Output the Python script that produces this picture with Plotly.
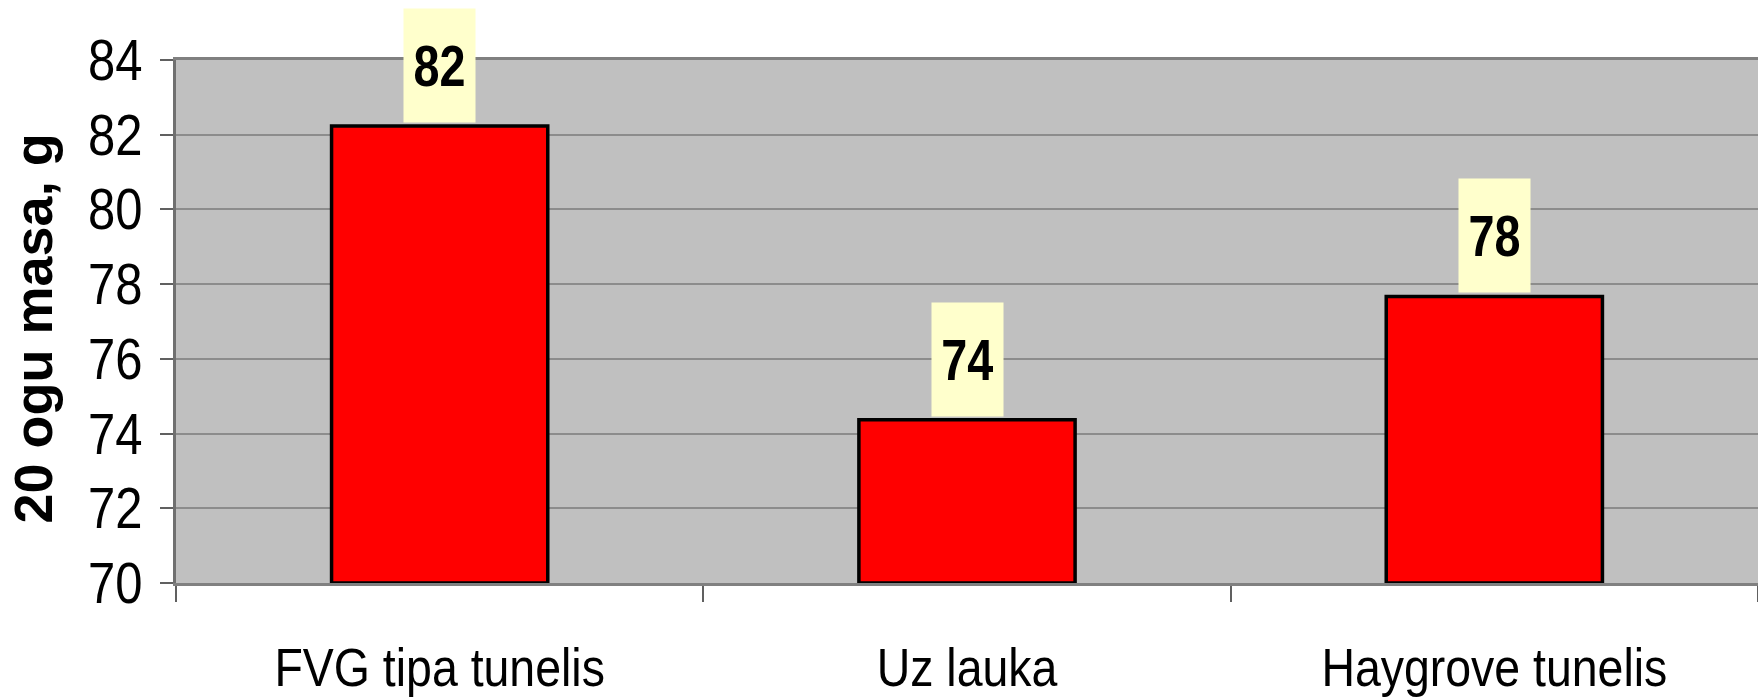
import plotly.graph_objects as go

categories = ["FVG tipa tunelis", "Uz lauka", "Haygrove tunelis"]
values = [82.23, 74.37, 77.67]
value_labels = ["82", "74", "78"]
y_title = "20 ogu masa, g"
y_ticks = [70, 72, 74, 76, 78, 80, 82, 84]
y_min = 70

FONT = "Liberation Sans, Arial, sans-serif"

fig = go.Figure()
fig.add_trace(go.Bar(
    x=categories, y=[v - y_min for v in values], base=y_min,
    marker=dict(color="#FF0000", line=dict(color="#000000", width=3.5)),
    hoverinfo="skip",
))

for c, v, t in zip(categories, values, value_labels):
    fig.add_annotation(
        x=c, y=v, xref="x", yref="y", text=t,
        showarrow=False, yanchor="bottom", yshift=3,
        bgcolor="#FFFFCC", width=71, height=113, borderpad=0,
        font=dict(family=FONT, size=57, color="#000000", weight="bold"),
    )

# y-axis title
fig.add_annotation(
    x=0, y=0.5, xref="paper", yref="paper", text=y_title,
    showarrow=False, textangle=-90, xanchor="center", yanchor="middle",
    xshift=-144, yshift=-7,
    font=dict(family=FONT, size=54, color="#000000", weight="bold"),
)

fig.update_layout(
    width=1758, height=697,
    margin=dict(l=176, r=0, t=60, b=114),
    paper_bgcolor="#FFFFFF", plot_bgcolor="#C0C0C0",
    bargap=0.59, showlegend=False,
    font=dict(family=FONT, color="#000000"),
)
fig.update_xaxes(
    type="category", tickson="boundaries", ticks="outside", ticklen=16,
    tickcolor="#606060", tickwidth=1.5, automargin=False,
    showline=True, linecolor="#808080", linewidth=3, mirror=True,
    showgrid=False, tickfont=dict(family=FONT, size=54, color="#000000"),
    ticklabelstandoff=35,
)
fig.update_yaxes(
    range=[70, 84], tickvals=y_ticks, ticks="outside", ticklen=13,
    tickcolor="#606060", tickwidth=1.5, automargin=False,
    showline=True, linecolor="#707070", linewidth=3,
    showgrid=True, gridcolor="#8C8C8C", gridwidth=1.5,
    zeroline=False,
    tickfont=dict(family=FONT, size=57, color="#000000"),
    ticklabelstandoff=6,
)

# Page without body margin; narrow (Arial Narrow-like) tick and value labels
post = """
document.body.style.margin = '0';
document.body.style.overflow = 'hidden';
var gd = document.getElementById('{plot_id}');
function squeeze(list, f){
  list.forEach(function(t){
    var L = t.getComputedTextLength();
    t.setAttribute('textLength', (L*f).toFixed(1));
    t.setAttribute('lengthAdjust', 'spacingAndGlyphs');
  });
}
squeeze(gd.querySelectorAll('.xtick text'), 0.86);
squeeze(gd.querySelectorAll('.ytick text'), 0.86);
var ann = Array.prototype.filter.call(gd.querySelectorAll('.annotation-text'),
  function(t){ return t.textContent.length <= 3; });
squeeze(ann, 0.82);
"""

fig.write_html("out.html", post_script=post, config={"displayModeBar": False})
